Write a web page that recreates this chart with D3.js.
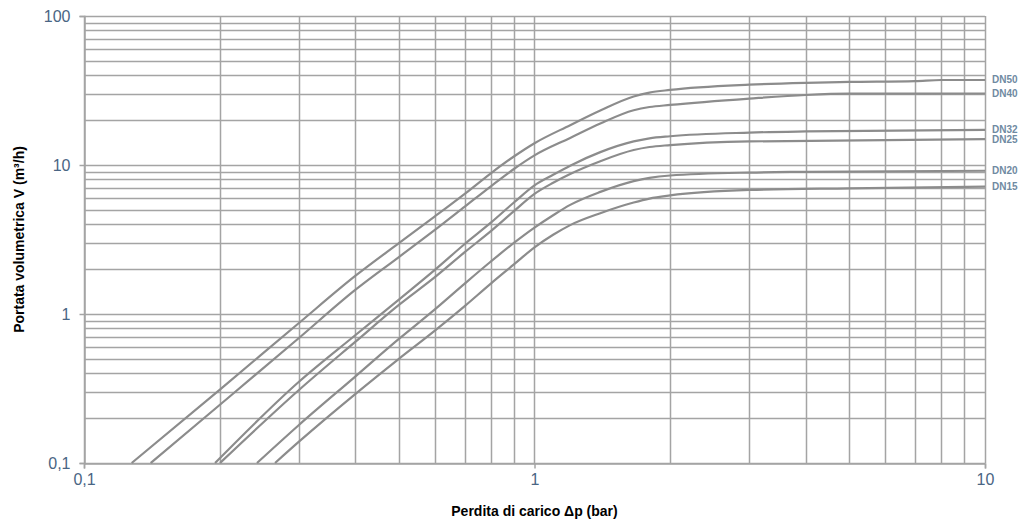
<!DOCTYPE html>
<html>
<head>
<meta charset="utf-8">
<script src="https://cdn.jsdelivr.net/npm/d3@7/dist/d3.min.js"></script>
<style>
  html, body { margin: 0; padding: 0; background: #ffffff; }
  svg { display: block; }
</style>
</head>
<body>
<svg id="chart" width="1024" height="526"></svg>
<script>
// ---- data ----
const seriesNames = ["DN50", "DN40", "DN32", "DN25", "DN20", "DN15"];
const dn50 = [[0.1276,0.1],[0.2,0.31],[0.3,0.87],[0.4,1.8],[0.5,2.99],[0.6,4.5],[0.7,6.4],[0.8,8.8],[0.9,11.4],[1,14.0],[1.2,18.5],[1.4,23.2],[1.66,28.8],[1.8,30.6],[2,31.9],[3,34.6],[4,35.6],[5,36.1],[7,36.6],[8,37.2],[10,37.2]];
const dn40 = [[0.1406,0.1],[0.2,0.245],[0.3,0.69],[0.4,1.45],[0.5,2.41],[0.6,3.65],[0.7,5.25],[0.8,7.2],[0.9,9.4],[1,11.6],[1.2,15.2],[1.4,19.0],[1.66,23.3],[1.8,24.5],[2,25.3],[3,27.9],[4,29.5],[5,30.1],[10,30.2]];
const dn32 = [[0.1954,0.1],[0.3,0.351],[0.4,0.72],[0.5,1.25],[0.6,1.97],[0.7,2.95],[0.8,4.1],[0.9,5.6],[1,7.3],[1.1,8.6],[1.2,9.9],[1.4,12.2],[1.66,14.4],[1.8,15.1],[2,15.6],[3,16.5],[4,16.8],[10,17.2]];
const dn25 = [[0.2004,0.1],[0.3,0.309],[0.4,0.65],[0.5,1.15],[0.6,1.76],[0.7,2.6],[0.8,3.6],[0.9,4.9],[1,6.4],[1.1,7.6],[1.2,8.7],[1.4,10.6],[1.66,12.6],[1.8,13.2],[2,13.6],[3,14.4],[10,14.9]];
const dn20 = [[0.2421,0.1],[0.3,0.18],[0.4,0.38],[0.5,0.68],[0.6,1.07],[0.7,1.6],[0.8,2.25],[0.9,3.0],[1,3.8],[1.1,4.6],[1.2,5.4],[1.4,6.6],[1.66,7.8],[1.8,8.2],[2,8.5],[3,8.9],[4,9.0],[10,9.15]];
const dn15 = [[0.2655,0.1],[0.3,0.139],[0.4,0.29],[0.5,0.5],[0.6,0.77],[0.7,1.13],[0.8,1.6],[0.9,2.15],[1,2.8],[1.1,3.4],[1.2,3.95],[1.4,4.75],[1.66,5.6],[1.8,5.95],[2,6.25],[3,6.8],[5,6.97],[10,7.15]];
const seriesValues = [dn50, dn40, dn32, dn25, dn20, dn15];

const xTickValues = [0.1, 1, 10];
const xTickLabels = ["0,1", "1", "10"];
const yTickValues = [0.1, 1, 10, 100];
const yTickLabels = ["0,1", "1", "10", "100"];
const xTitle = "Perdita di carico Δp (bar)";
const yTitle = "Portata volumetrica V (m³/h)";

// ---- layout ----
const mLeft = 84, mRight = 985, mTop = 16, mBottom = 463;
const svg = d3.select("#chart");

const x = d3.scaleLog().domain([0.1, 10]).range([mLeft, mRight]);
const y = d3.scaleLog().domain([0.1, 100]).range([mBottom, mTop]);

const gridColor = "#a4a4a4";
const tickColor = "#4a6584";

// minor + major grid values
const xGrid = [];
[0.1, 1].forEach(d => { for (let k = 1; k <= 10; k++) xGrid.push(+(d * k).toPrecision(3)); });
const yGrid = [];
[0.1, 1, 10].forEach(d => { for (let k = 1; k <= 10; k++) yGrid.push(+(d * k).toPrecision(3)); });

const grid = svg.append("g");
grid.selectAll("line.v").data(Array.from(new Set(xGrid))).enter().append("line")
  .attr("x1", d => Math.round(x(d)) + 0.5).attr("x2", d => Math.round(x(d)) + 0.5)
  .attr("y1", mTop).attr("y2", mBottom)
  .attr("stroke", gridColor).attr("stroke-width", 1.5);
grid.selectAll("line.h").data(Array.from(new Set(yGrid))).enter().append("line")
  .attr("y1", d => Math.round(y(d)) + 0.5).attr("y2", d => Math.round(y(d)) + 0.5)
  .attr("x1", mLeft).attr("x2", mRight)
  .attr("stroke", gridColor).attr("stroke-width", 1.5);

// axes with outer ticks
const xAxis = d3.axisBottom(x).tickValues(xTickValues).tickSize(5)
  .tickFormat((d, i) => xTickLabels[i]);
const gx = svg.append("g").attr("transform", `translate(0,${mBottom + 0.5})`).call(xAxis);
gx.select(".domain").attr("stroke", gridColor).attr("stroke-width", 1.5);
gx.selectAll(".tick line").attr("stroke", gridColor).attr("stroke-width", 1.5);
gx.selectAll(".tick text").attr("fill", tickColor).attr("font-family", "Liberation Sans, Arial, sans-serif")
  .attr("font-size", 16).attr("dy", "0.95em").attr("y", 6);

const yAxis = d3.axisLeft(y).tickValues(yTickValues).tickSize(5)
  .tickFormat((d, i) => yTickLabels[i]);
const gy = svg.append("g").attr("transform", `translate(${mLeft + 0.5},0)`).call(yAxis);
gy.select(".domain").attr("stroke", gridColor).attr("stroke-width", 1.5);
gy.selectAll(".tick line").attr("stroke", gridColor).attr("stroke-width", 1.5);
gy.selectAll(".tick text").attr("fill", tickColor).attr("font-family", "Liberation Sans, Arial, sans-serif")
  .attr("font-size", 16).attr("x", -14);

// curves
const line = d3.line()
  .x(d => x(d[0])).y(d => y(d[1]))
  .curve(d3.curveMonotoneX);
svg.append("g").selectAll("path").data(seriesValues).enter().append("path")
  .attr("d", line)
  .attr("fill", "none")
  .attr("stroke", "#8c8c8c")
  .attr("stroke-width", 2.2);

// series labels
svg.append("g").selectAll("text").data(seriesNames).enter().append("text")
  .attr("x", mRight + 7)
  .attr("y", (d, i) => y(seriesValues[i][seriesValues[i].length - 1][1]))
  .attr("dy", "0.35em")
  .attr("font-family", "Liberation Sans, Arial, sans-serif")
  .attr("font-weight", "bold")
  .attr("font-size", 10)
  .attr("fill", "#6f8aa2")
  .text(d => d);

// axis titles
svg.append("text")
  .attr("x", (mLeft + mRight) / 2).attr("y", 516)
  .attr("text-anchor", "middle")
  .attr("font-family", "Liberation Sans, Arial, sans-serif")
  .attr("font-weight", "bold").attr("font-size", 14)
  .attr("fill", "#000")
  .text(xTitle);

svg.append("text")
  .attr("transform", `translate(24,${(mTop + mBottom) / 2}) rotate(-90)`)
  .attr("text-anchor", "middle")
  .attr("font-family", "Liberation Sans, Arial, sans-serif")
  .attr("font-weight", "bold").attr("font-size", 14)
  .attr("fill", "#000")
  .text(yTitle);
</script>
</body>
</html>
